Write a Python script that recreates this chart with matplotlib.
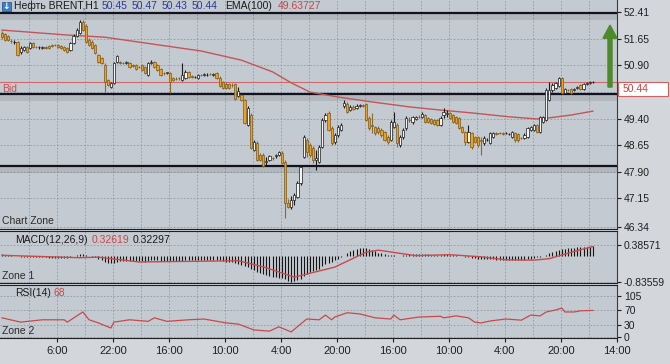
import matplotlib
matplotlib.use("Agg")
import matplotlib.pyplot as plt
from matplotlib.patches import Rectangle, FancyArrow

plt.rcParams['font.family'] = ['Liberation Sans', 'DejaVu Sans']
NARROW = ['Liberation Sans Narrow', 'Liberation Sans', 'DejaVu Sans']

# ── data ──
opens = [51.82, 51.79, 51.73, 51.59, 51.56, 51.56, 51.28, 51.34, 51.42, 51.39,
         51.54, 51.42, 51.41, 51.39, 51.42, 51.45, 51.48, 51.48, 51.48, 51.45,
         51.42, 51.39, 51.34, 51.54, 51.73, 51.82, 52.13, 52.01, 51.62, 51.56,
         51.48, 51.20, 51.11, 50.91, 50.49, 50.29, 50.41, 51.00, 51.00, 50.97,
         50.97, 50.97, 50.91, 50.91, 50.86, 50.91, 50.86, 50.63, 50.97, 51.00,
         50.91, 50.80, 50.69, 50.69, 50.69, 50.55, 50.52, 50.55, 50.49, 50.55,
         50.72, 50.60, 50.57, 50.55, 50.63, 50.63, 50.63, 50.66, 50.63, 50.69,
         50.55, 50.43, 50.38, 50.38, 50.35, 50.38, 50.04, 50.07, 49.93, 49.22,
         49.50, 48.51, 48.71, 48.37, 48.37, 48.17, 48.23, 48.29, 48.34, 48.37,
         48.43, 48.17, 47.02, 46.90, 47.10, 47.18, 47.58, 48.31, 48.79, 48.65,
         48.57, 48.23, 48.17, 48.60, 49.36, 49.56, 49.13, 48.74, 48.94, 49.08,
         49.76, 49.81, 49.64, 49.73, 49.70, 49.76, 49.78, 49.81, 49.42, 49.22,
         49.16, 49.13, 49.08, 49.02, 48.88, 48.79, 49.16, 49.22, 48.65, 48.88,
         49.13, 49.36, 49.30, 49.39, 49.45, 49.45, 49.50, 49.42, 49.39, 49.36,
         49.36, 49.22, 49.50, 49.53, 49.56, 49.50, 49.45, 49.42, 49.16, 49.02,
         48.74, 48.99, 48.88, 48.88, 48.79, 48.71, 48.79, 48.71, 48.88, 48.99,
         48.99, 48.99, 48.99, 48.96, 48.88, 48.99, 48.96, 48.85, 48.85, 48.88,
         49.08, 49.08, 49.22, 49.02, 49.30, 49.36, 49.93, 50.21, 50.26, 50.32,
         50.55, 50.12, 50.21, 50.24, 50.21, 50.26, 50.35, 50.24, 50.38, 50.41,
         50.43]
highs = [51.87, 51.82, 51.76, 51.65, 51.62, 51.59, 51.45, 51.45, 51.45, 51.56,
         51.56, 51.45, 51.45, 51.45, 51.45, 51.48, 51.51, 51.51, 51.51, 51.48,
         51.45, 51.42, 51.56, 51.79, 51.96, 52.19, 52.19, 52.07, 51.68, 51.62,
         51.51, 51.22, 51.14, 50.97, 50.52, 50.43, 51.00, 51.20, 51.03, 51.00,
         51.03, 51.00, 50.94, 50.94, 50.88, 50.94, 50.88, 51.00, 51.05, 51.03,
         50.94, 50.83, 50.72, 50.72, 50.72, 50.57, 50.57, 50.57, 50.97, 50.77,
         50.74, 50.63, 50.60, 50.66, 50.66, 50.69, 50.69, 50.69, 50.69, 50.72,
         50.60, 50.46, 50.43, 50.41, 50.41, 50.41, 50.29, 50.09, 49.95, 49.76,
         49.56, 48.79, 48.77, 48.43, 48.43, 48.31, 48.37, 48.31, 48.40, 48.48,
         48.48, 48.23, 47.13, 47.21, 47.30, 47.64, 48.09, 48.94, 48.85, 48.71,
         48.62, 48.51, 48.65, 49.42, 49.56, 49.61, 49.19, 48.99, 49.22, 49.28,
         49.93, 49.87, 49.78, 49.78, 49.81, 49.81, 49.81, 49.84, 49.47, 49.56,
         49.19, 49.19, 49.13, 49.05, 48.94, 49.36, 49.59, 49.28, 48.94, 49.13,
         49.47, 49.45, 49.47, 49.47, 49.50, 49.59, 49.53, 49.45, 49.42, 49.39,
         49.39, 49.47, 49.70, 49.64, 49.59, 49.53, 49.47, 49.45, 49.19, 49.05,
         49.22, 49.02, 48.91, 48.91, 48.88, 48.91, 48.85, 49.02, 49.02, 49.02,
         49.02, 49.02, 49.02, 48.99, 49.05, 49.02, 48.99, 48.88, 48.99, 49.16,
         49.19, 49.25, 49.25, 49.47, 49.47, 50.26, 50.43, 50.41, 50.43, 50.57,
         50.57, 50.26, 50.24, 50.26, 50.26, 50.32, 50.38, 50.41, 50.43, 50.46,
         50.46]
lows = [51.65, 51.59, 51.59, 51.54, 51.51, 51.17, 51.22, 51.31, 51.25, 51.37,
        51.39, 51.39, 51.37, 51.37, 51.37, 51.37, 51.42, 51.45, 51.39, 51.37,
        51.31, 51.25, 51.31, 51.51, 51.70, 51.79, 51.87, 51.54, 51.45, 51.37,
        51.22, 50.97, 50.94, 50.15, 50.32, 50.26, 50.38, 50.97, 50.94, 50.94,
        50.94, 50.83, 50.86, 50.77, 50.83, 50.74, 50.66, 50.60, 50.94, 50.83,
        50.74, 50.60, 50.63, 50.66, 50.12, 50.46, 50.49, 50.49, 50.46, 50.52,
        50.55, 50.55, 50.55, 50.52, 50.60, 50.60, 50.60, 50.63, 50.60, 50.52,
        50.29, 50.24, 50.24, 50.24, 50.29, 49.93, 50.01, 49.90, 49.25, 49.19,
        48.54, 48.48, 48.20, 48.20, 48.03, 48.09, 48.20, 48.23, 48.29, 48.34,
        48.12, 46.59, 46.87, 46.85, 46.96, 47.16, 47.52, 48.29, 48.31, 48.31,
        48.14, 47.95, 48.14, 48.57, 49.30, 49.05, 48.65, 48.68, 48.88, 49.05,
        49.70, 49.56, 49.61, 49.64, 49.67, 49.73, 49.73, 49.33, 49.08, 48.99,
        48.94, 48.96, 48.88, 48.77, 48.68, 48.77, 49.13, 48.60, 48.60, 48.82,
        49.08, 49.30, 49.25, 49.36, 49.42, 49.42, 49.28, 49.28, 49.25, 49.22,
        49.19, 49.19, 49.42, 49.45, 49.39, 49.28, 49.25, 49.11, 48.99, 48.65,
        48.71, 48.54, 48.71, 48.60, 48.37, 48.65, 48.77, 48.68, 48.85, 48.94,
        48.96, 48.94, 48.96, 48.94, 48.85, 48.74, 48.74, 48.82, 48.82, 48.85,
        49.05, 49.05, 48.99, 48.99, 49.28, 49.33, 49.90, 50.15, 50.24, 50.29,
        50.09, 50.09, 50.18, 50.09, 50.18, 50.24, 50.21, 50.21, 50.35, 50.38,
        50.41]
closes = [51.70, 51.62, 51.62, 51.58, 51.57, 51.20, 51.39, 51.42, 51.28, 51.54,
          51.42, 51.41, 51.42, 51.42, 51.39, 51.39, 51.45, 51.47, 51.42, 51.39,
          51.34, 51.28, 51.54, 51.73, 51.90, 52.13, 51.90, 51.56, 51.48, 51.39,
          51.25, 51.00, 50.97, 50.43, 50.35, 50.41, 50.97, 51.17, 50.98, 50.96,
          51.00, 50.86, 50.88, 50.80, 50.85, 50.77, 50.69, 50.97, 51.00, 50.86,
          50.77, 50.63, 50.68, 50.70, 50.43, 50.49, 50.51, 50.54, 50.63, 50.72,
          50.57, 50.57, 50.58, 50.63, 50.62, 50.66, 50.64, 50.65, 50.66, 50.55,
          50.32, 50.26, 50.26, 50.26, 50.34, 49.95, 50.18, 49.93, 49.28, 49.70,
          48.57, 48.74, 48.23, 48.23, 48.06, 48.20, 48.34, 48.28, 48.37, 48.46,
          48.14, 47.02, 46.90, 47.10, 47.24, 47.58, 48.03, 48.88, 48.46, 48.37,
          48.23, 48.29, 48.60, 49.36, 49.50, 49.08, 48.71, 48.94, 49.16, 49.22,
          49.84, 49.59, 49.73, 49.67, 49.76, 49.78, 49.76, 49.36, 49.13, 49.19,
          48.99, 49.02, 48.94, 48.79, 48.74, 49.30, 49.30, 48.71, 48.88, 49.08,
          49.42, 49.35, 49.45, 49.45, 49.44, 49.53, 49.30, 49.30, 49.28, 49.25,
          49.22, 49.42, 49.59, 49.56, 49.42, 49.30, 49.28, 49.13, 49.02, 48.74,
          49.02, 48.60, 48.74, 48.65, 48.78, 48.85, 48.80, 48.99, 48.99, 48.96,
          48.98, 48.96, 49.00, 48.97, 49.02, 48.79, 48.79, 48.84, 48.94, 49.13,
          49.16, 49.22, 49.02, 49.45, 49.45, 50.21, 50.21, 50.35, 50.41, 50.55,
          50.12, 50.24, 50.20, 50.12, 50.24, 50.29, 50.24, 50.38, 50.41, 50.43,
          50.44]

ema_bars = [0, 21, 33, 48, 64, 77, 87, 93, 99, 108, 119, 131, 141, 151, 163, 172, 176, 183, 190]
ema_vals = [51.90, 51.76, 51.70, 51.51, 51.31, 51.05, 50.72, 50.41, 50.15, 50.01,
            49.87, 49.73, 49.64, 49.56, 49.45, 49.39, 49.42, 49.50, 49.61]

levels = [52.37, 50.09, 48.05]
bid = 50.44
price_ticks = [52.41, 51.65, 50.90, 49.40, 48.65, 47.90, 47.15, 46.34]

macd_hist = [0.06, 0.05, 0.04, 0.03, 0.02, 0.00, -0.02, -0.03, -0.03, -0.02,
             -0.02, -0.03, -0.04, -0.04, -0.04, -0.05, -0.05, -0.05, -0.06, -0.06,
             -0.07, -0.07, -0.04, 0.00, 0.04, 0.08, 0.08, 0.05, 0.02, -0.01,
             -0.04, -0.08, -0.12, -0.18, -0.22, -0.24, -0.21, -0.18, -0.17, -0.16,
             -0.16, -0.16, -0.16, -0.17, -0.17, -0.17, -0.18, -0.15, -0.13, -0.13,
             -0.14, -0.15, -0.16, -0.16, -0.17, -0.17, -0.16, -0.16, -0.15, -0.14,
             -0.14, -0.14, -0.14, -0.13, -0.13, -0.13, -0.13, -0.13, -0.13, -0.13,
             -0.14, -0.16, -0.18, -0.19, -0.20, -0.24, -0.26, -0.28, -0.33, -0.36,
             -0.42, -0.46, -0.51, -0.55, -0.60, -0.63, -0.66, -0.68, -0.70, -0.72,
             -0.73, -0.76, -0.82, -0.84, -0.83, -0.80, -0.74, -0.65, -0.58, -0.53,
             -0.50, -0.47, -0.42, -0.33, -0.26, -0.22, -0.18, -0.12, -0.08, -0.04,
             0.02, 0.12, 0.18, 0.22, 0.25, 0.27, 0.27, 0.26, 0.24, 0.21,
             0.16, 0.12, 0.09, 0.07, 0.04, 0.04, 0.04, 0.02, 0.02, 0.03,
             0.05, 0.06, 0.07, 0.07, 0.08, 0.08, 0.07, 0.06, 0.05, 0.05,
             0.04, 0.05, 0.06, 0.06, 0.05, 0.04, 0.03, 0.02, 0.00, -0.03,
             -0.04, -0.06, -0.07, -0.08, -0.09, -0.10, -0.10, -0.10, -0.10, -0.11,
             -0.11, -0.11, -0.11, -0.11, -0.11, -0.12, -0.12, -0.12, -0.11, -0.10,
             -0.08, -0.06, -0.04, -0.02, 0.00, 0.04, 0.10, 0.14, 0.17, 0.20,
             0.23, 0.25, 0.26, 0.27, 0.28, 0.29, 0.30, 0.31, 0.32, 0.32,
             0.33]
signal_bars = [0, 25, 31, 44, 76, 84, 94, 107, 117, 121, 133, 144, 154, 162, 171, 176, 183, 190]
signal_vals = [0.03, -0.05, -0.03, -0.19, -0.15, -0.35, -0.69, -0.36, 0.13, 0.20,
               0.02, 0.05, -0.02, -0.12, -0.13, -0.08, 0.13, 0.32]
macd_ticks = [0.38571, -0.83559]

rsi_bars = [0, 6, 13, 20, 21, 26, 28, 31, 35, 36, 41, 47, 49, 53, 60, 65, 72, 76,
            81, 86, 89, 93, 96, 98, 102, 104, 106, 107, 111, 115, 120, 125, 126, 128,
            134, 141, 142, 146, 150, 152, 154, 157, 162, 167, 170, 173, 175, 178, 180,
            181, 184, 186, 190]
rsi_vals = [49, 38, 44, 44, 38, 64, 44, 36, 23, 38, 44, 40, 49, 40, 44, 46, 36, 33,
            18, 15, 26, 13, 33, 46, 44, 56, 44, 51, 62, 59, 49, 46, 56, 44,
            51, 53, 49, 54, 49, 38, 36, 41, 46, 43, 56, 54, 64, 69, 74,
            64, 64, 67, 68]
rsi_ticks = [105, 70, 30, 0]

time_labels = ['6:00', '22:00', '16:00', '10:00', '4:00', '20:00',
               '16:00', '10:00', '4:00', '20:00', '14:00']

# ── layout helpers (pixel based) ──
W, H = 670, 364
fig = plt.figure(figsize=(W / 100, H / 100), dpi=100)
fig.patch.set_facecolor('#d3d6da')
PANEL = '#c4cad1'
GRID = '#8e99a6'
DARK = '#202020'


def px_axes(top, bottom, left=0, right=617):
    a = fig.add_axes([left / W, 1 - bottom / H, (right - left) / W, (bottom - top) / H])
    a.set_facecolor(PANEL)
    return a


def ftext(x, y, s, **kw):
    kw.setdefault('va', 'center')
    fig.text(x / W, 1 - y / H, s, **kw)


ax = px_axes(0, 229)
ax_macd = px_axes(231, 283)
ax_rsi = px_axes(285, 338)

xmin, xmax = -0.64, 197.75
major = [17.7 + 18 * k for k in range(11)]
minor = [8.7 + 18 * k for k in range(11)]

for a in (ax, ax_macd, ax_rsi):
    a.set_xlim(xmin, xmax)
    a.set_xticks(major)
    a.set_xticks(minor, minor=True)
    a.yaxis.tick_right()
    a.grid(True, which='both', axis='x', color=GRID, lw=0.6, ls=(0, (2, 2)))
    a.grid(True, axis='y', color=GRID, lw=0.6, ls=(0, (2, 2)))
    a.tick_params(axis='x', which='both', length=0, labelbottom=False)
    a.tick_params(axis='y', length=3, width=0.8, colors=DARK, labelsize=7.5, pad=2)
    a.spines['left'].set_visible(False)
    a.spines['right'].set_color('#3a3a3a')
    a.spines['top'].set_color(DARK)
    a.spines['bottom'].set_color(DARK)
    a.set_axisbelow(True)
ax.spines['top'].set_visible(False)

# ── main price chart ──
ax.set_ylim(46.28, 52.75)
ax.set_yticks(price_ticks)
ax.set_yticklabels([f'{p:.2f}' for p in price_ticks])
ax.axhline(50.15, color=GRID, lw=0.6, ls=(0, (2, 2)), zorder=0)

for lvl in levels:
    ax.axhspan(lvl - 0.19, lvl, color='black', alpha=0.09, lw=0, zorder=1)
    ax.axhline(lvl, color='#12121e', lw=1.6, zorder=2)

ax.axhline(bid, color='#cf6a6a', lw=0.8, zorder=2)
ax.plot(ema_bars, ema_vals, color='#c25656', lw=1.0, zorder=3)

for i in range(len(closes)):
    o, h, l, c = opens[i], highs[i], lows[i], closes[i]
    up = c >= o
    body_col = '#f4f4f4' if up else '#eba024'
    edge_col = '#1a1a1a' if up else '#7a5a20'
    wick_col = '#1a1a1a' if up else '#8a6a30'
    ax.vlines(i, l, h, color=wick_col, lw=0.8, zorder=4)
    ax.bar(i, max(abs(c - o), 0.012), bottom=min(o, c), width=0.72,
           color=body_col, edgecolor=edge_col, lw=0.5, zorder=5)

ax.add_patch(FancyArrow(195.5, 50.29, 0, 1.75, width=1.3, head_width=4.5,
                        head_length=0.37, length_includes_head=True,
                        color='#4d8a2c', zorder=6, clip_on=False))

ax.text(0.004, bid - 0.06, 'Bid', transform=ax.get_yaxis_transform(),
        color='#c65050', fontsize=7.5, va='top', ha='left')
ax.text(0.004, 0.012, 'Chart Zone', transform=ax.transAxes,
        color='#2a2a2a', fontsize=7.5, va='bottom', ha='left')

# bid price box on the axis
ax.add_patch(Rectangle((1.002, bid - 0.40), 0.081, 0.40, transform=ax.get_yaxis_transform(),
                       facecolor='white', edgecolor='#d06060', lw=0.8, clip_on=False, zorder=7))
ax.text(1.009, bid - 0.20, f'{bid:.2f}', transform=ax.get_yaxis_transform(),
        color='#d04040', fontsize=7.5, va='center', ha='left', zorder=8, clip_on=False)

# ── MACD ──
ax_macd.set_ylim(-0.884, 0.832)
ax_macd.set_yticks(macd_ticks)
ax_macd.set_yticklabels([f'{v:.5f}' for v in macd_ticks])
ax_macd.vlines(range(len(macd_hist)), 0, macd_hist, color='#141414', lw=0.8, zorder=3)
ax_macd.plot(signal_bars, signal_vals, color='#c84a4a', lw=1.0, zorder=4)
ax_macd.text(0.004, 0.04, 'Zone 1', transform=ax_macd.transAxes,
             color='#2a2a2a', fontsize=7.5, va='bottom', ha='left')

# ── RSI ──
ax_rsi.set_ylim(-2.6, 133)
ax_rsi.set_yticks(rsi_ticks)
ax_rsi.plot(rsi_bars, rsi_vals, color='#c84a4a', lw=0.9, zorder=3)
ax_rsi.text(0.004, 0.04, 'Zone 2', transform=ax_rsi.transAxes,
            color='#2a2a2a', fontsize=7.5, va='bottom', ha='left')
ax_rsi.set_xticklabels(time_labels)
ax_rsi.tick_params(axis='x', which='major', length=3, labelbottom=True,
                   colors=DARK, pad=3)
for lab in ax_rsi.get_xticklabels():
    lab.set_fontsize(8)
    lab.set_family(NARROW)

# ── header texts ──
fig.patches.append(Rectangle((2 / W, 1 - 11 / H), 9 / W, 9 / H, transform=fig.transFigure,
                             facecolor='#3f7fc8', edgecolor='#2a5a9a', lw=0.6, figure=fig))
ftext(6.5, 6.2, '↓', color='white', fontsize=6.5, ha='center', family='DejaVu Sans',
      weight='bold')
ftext(14, 6, 'Нефть BRENT,H1', color='#1a1a1a', fontsize=7.5, family=NARROW)
for x, s in zip([102, 132, 162, 192], ['50.45', '50.47', '50.43', '50.44']):
    ftext(x, 6, s, color='#2a3a9a', fontsize=7.5, family=NARROW)
ftext(225, 6, 'EMA(100)', color='#1a1a1a', fontsize=7.5, family=NARROW)
ftext(278, 6, '49.63727', color='#c04848', fontsize=7.5, family=NARROW)

ftext(15, 240, 'MACD(12,26,9)', color='#1a1a1a', fontsize=7.5, family=NARROW)
ftext(92, 240, '0.32619', color='#c84848', fontsize=7.5, family=NARROW)
ftext(133, 240, '0.32297', color='#1a1a1a', fontsize=7.5, family=NARROW)
ftext(15, 293, 'RSI(14)', color='#1a1a1a', fontsize=7.5, family=NARROW)
ftext(53, 293, '68', color='#c84848', fontsize=7.5, family=NARROW)

fig.savefig('out.png', dpi=100, facecolor=fig.get_facecolor())
